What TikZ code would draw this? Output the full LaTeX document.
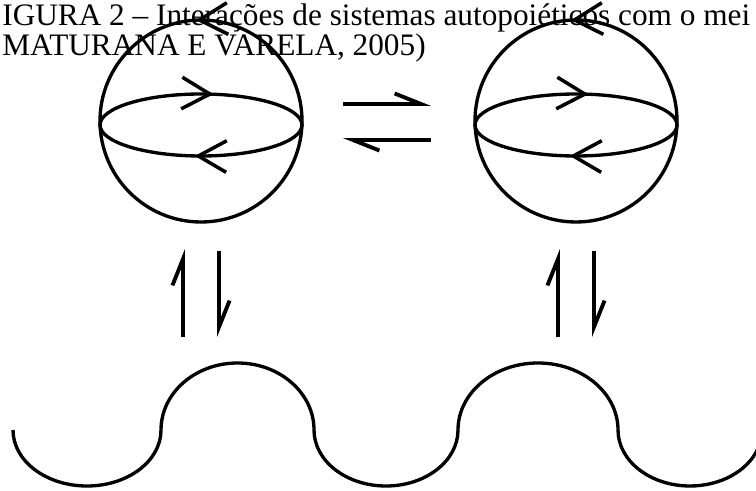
\documentclass[tikz,border=0pt]{standalone}
\usepackage{fontspec}
\setmainfont{Liberation Serif}
\usetikzlibrary{arrows.meta,decorations.markings}

\begin{document}
\begin{tikzpicture}[x=0.02cm, y=0.02cm,
    sphere/.style={line width=1.9pt},
    harpoon/.style={line width=2.2pt, -{Straight Barb[left, length=15pt, width=12pt]}},
    wave/.style={line width=1.9pt},
    caption/.style={font=\fontsize{17.8}{21}\selectfont, anchor=base west, inner sep=0pt}]
  \useasboundingbox (0,0) rectangle (756,490);
  % caption, cut at the edges
  \node[caption] (cap1) at (2,464) {IGURA 2 – Interações de sistemas autopoiéticos com o mei};
  \node[caption] (cap2) at (2,434) {MATURANA E VARELA, 2005)};
  % the two unities
  \foreach \name/\cx in {left/201, right/576} {
    \coordinate (\name) at (\cx,369);
    \draw[sphere, postaction={decorate}, decoration={markings,
        mark=at position 0.258 with {\arrow[line width=2pt]{Straight Barb[length=16pt, width=18pt]}}}]
      (\name) circle [radius=101];
    \draw[sphere, postaction={decorate}, decoration={markings,
        mark=at position 0.222 with {\arrowreversed[line width=2pt]{Straight Barb[length=16pt, width=18pt]}},
        mark=at position 0.736 with {\arrowreversed[line width=2pt]{Straight Barb[length=16pt, width=18pt]}}}]
      (\cx,365) ellipse [x radius=101, y radius=31];
    % exchanges with the medium
    \coordinate (\name-up-a) at (\cx-18,153);
    \coordinate (\name-up-b) at (\cx-18,241);
    \coordinate (\name-dn-a) at (\cx+18,239);
    \coordinate (\name-dn-b) at (\cx+18,153);
    \draw[harpoon] (\name-up-a) -- (\name-up-b);
    \draw[harpoon] (\name-dn-a) -- (\name-dn-b);
  }
  % exchanges between the unities
  \coordinate (ex1) at (343,386);
  \coordinate (ex2) at (431,386);
  \coordinate (ex3) at (431,350);
  \coordinate (ex4) at (343,350);
  \draw[harpoon] (ex1) -- (ex2);
  \draw[harpoon] (ex3) -- (ex4);
  % the medium
  \draw[wave] (13,60)
    arc[start angle=180, end angle=360, x radius=74, y radius=56]
    arc[start angle=180, end angle=0, x radius=76.5, y radius=67]
    arc[start angle=180, end angle=360, x radius=72, y radius=56]
    arc[start angle=180, end angle=0, x radius=80, y radius=67]
    arc[start angle=180, end angle=340, x radius=72, y radius=56];
\end{tikzpicture}
\end{document}
